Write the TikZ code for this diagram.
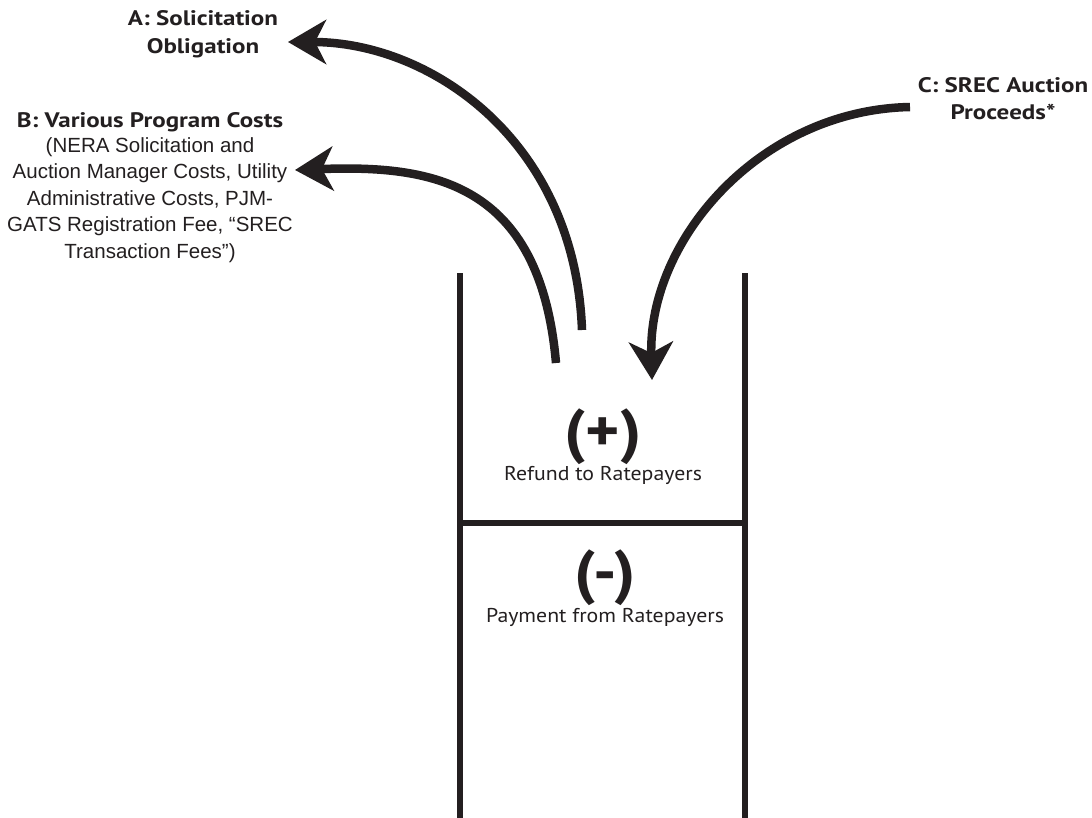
\documentclass[tikz,border=0pt]{standalone}
\usepackage{fontspec}
\setmainfont{PT Sans}
\newfontfamily\headfont[FakeStretch=1.19]{PT Sans}
\newfontfamily\labfont[FakeStretch=1.09]{PT Sans}
\newfontfamily\descfont{Liberation Sans}
\usetikzlibrary{arrows.meta}
\definecolor{ink}{HTML}{231F20}
\begin{document}
\begin{tikzpicture}[x=1pt,y=-1pt,
  wall/.style={draw=ink,line width=6.5pt},
  flow/.style={draw=ink,line width=8.5pt,-{Stealth[length=38pt,width=44pt,inset=11pt]}},
  head/.style={text=ink,font=\headfont\bfseries\fontsize{21}{27.5}\selectfont,align=center,inner sep=0pt},
  desc/.style={text=ink,font=\descfont\fontsize{20.5}{26.5}\selectfont,align=center,inner sep=0pt},
  sign/.style={text=ink,font=\labfont\bfseries\fontsize{60}{60}\selectfont,inner sep=0pt},
  lab/.style={text=ink,font=\labfont\fontsize{20}{22}\selectfont,inner sep=0pt}]
\useasboundingbox[fill=white] (0,0) rectangle (1092,817);
% box
\coordinate (lt) at (460,273);
\coordinate (lb) at (460,820);
\coordinate (rt) at (745,273);
\coordinate (rb) at (745,820);
\coordinate (dl) at (460,523);
\coordinate (dr) at (745,523);
\draw[wall] (lt) -- (lb);
\draw[wall] (rt) -- (rb);
\draw[wall] (dl) -- (dr);
% texts
\node[head] (A) at (203,34) {A: Solicitation\\Obligation};
\node[head] (B) at (150,122) {B: Various Program Costs};
\node[desc] (Bd) at (150,200) {(NERA Solicitation and\\Auction Manager Costs, Utility\\Administrative Costs, PJM-\\GATS Registration Fee, “SREC\\Transaction Fees”)};
\node[head] (C) at (1003,98.5) {C: SREC Auction\\Proceeds*};
\node[sign] (plus) at (603,437) {(+)};
\node[lab] (refund) at (603,475) {Refund to Ratepayers};
\node[sign] (minus) at (605,578) {(-)};
\node[lab] (pay) at (605,617) {Payment from Ratepayers};
% arrows
\coordinate (a0) at (582,330);
\coordinate (a1) at (288,42);
\coordinate (b0) at (556,363);
\coordinate (b1) at (295,170);
\coordinate (c0) at (910,107);
\coordinate (c1) at (652,380);
\draw[flow] (a0) .. controls (575,140) and (430,42) .. (a1);
\draw[flow] (b0) .. controls (540,180) and (430,165) .. (b1);
\draw[flow] (c0) .. controls (760,110) and (648,240) .. (c1);
\end{tikzpicture}
\end{document}
